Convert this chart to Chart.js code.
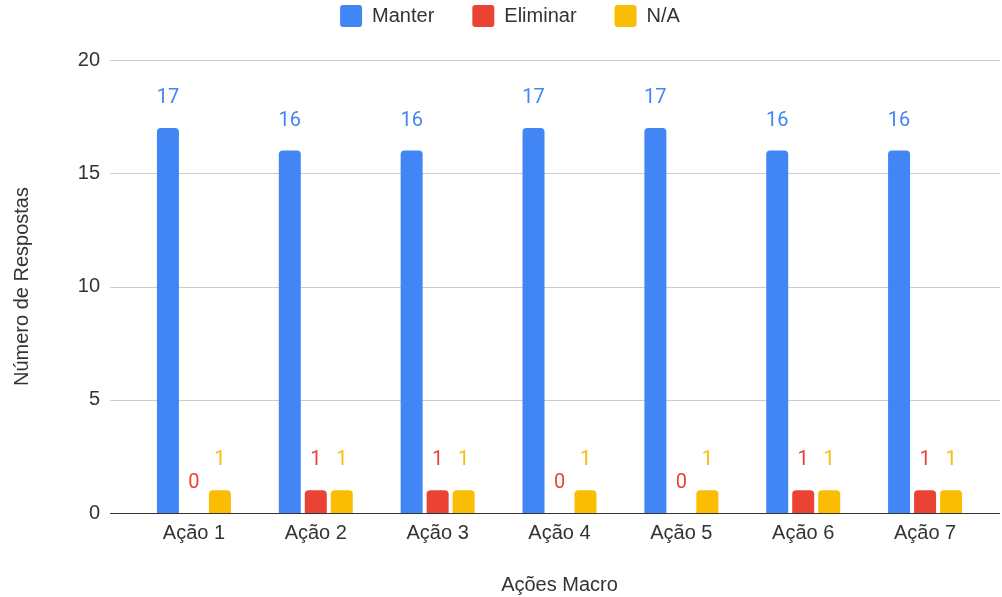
<!DOCTYPE html>
<html>
<head>
<meta charset="utf-8">
<script src="https://cdn.jsdelivr.net/npm/chart.js@4.4.0/dist/chart.umd.min.js"></script>
<style>
  html, body { margin: 0; padding: 0; background: #fff; }
  #wrap { width: 1002px; height: 597px; position: relative; }
</style>
</head>
<body>
<div id="wrap"><canvas id="c"></canvas></div>
<script>
const categories = ['Ação 1', 'Ação 2', 'Ação 3', 'Ação 4', 'Ação 5', 'Ação 6', 'Ação 7'];
const manter = [17, 16, 16, 17, 17, 16, 16];
const eliminar = [0, 1, 1, 0, 0, 1, 1];
const na = [1, 1, 1, 1, 1, 1, 1];
const yTicks = [0, 5, 10, 15, 20];

const FONT = '"Liberation Sans", Arial, sans-serif';
const LABEL_FONT = 'Roboto, "Liberation Sans", Arial, sans-serif';
const COLORS = { manter: '#4285F4', eliminar: '#EA4335', na: '#FBBC04' };

const legendHeight = {
  id: 'legendHeight',
  beforeInit(chart) {
    const fit = chart.legend.fit;
    chart.legend.fit = function () {
      fit.bind(chart.legend)();
      this.height = 93;
    };
  },
  afterLayout(chart) {
    chart.legend.left = 18;
    chart.legend.right = 1002;
  }
};

const gridPlugin = {
  id: 'gridPlugin',
  beforeDatasetsDraw(chart) {
    const ctx = chart.ctx;
    const y = chart.scales.y;
    ctx.save();
    yTicks.forEach(v => {
      const py = Math.round(y.getPixelForValue(v)) + 0.5;
      ctx.beginPath();
      ctx.strokeStyle = v === 0 ? '#333333' : '#cccccc';
      ctx.lineWidth = 1;
      ctx.moveTo(110, py);
      ctx.lineTo(1000, py);
      ctx.stroke();
    });
    ctx.restore();
  }
};

const labelPlugin = {
  id: 'labelPlugin',
  afterDatasetsDraw(chart) {
    const ctx = chart.ctx;
    ctx.save();
    ctx.font = '20px ' + LABEL_FONT;
    ctx.textAlign = 'center';
    ctx.textBaseline = 'middle';
    chart.data.datasets.forEach((ds, i) => {
      const meta = chart.getDatasetMeta(i);
      meta.data.forEach((el, j) => {
        ctx.fillStyle = ds.backgroundColor;
        ctx.fillText(String(ds.data[j]), el.x, el.y - 30);
      });
    });
    ctx.restore();
  }
};

const barCommon = {
  categoryPercentage: 0.64,
  barPercentage: 0.846,
  borderRadius: 4,
  borderSkipped: 'start',
  borderWidth: 0
};

new Chart(document.getElementById('c'), {
  type: 'bar',
  data: {
    labels: categories,
    datasets: [
      Object.assign({ label: 'Manter', data: manter, backgroundColor: COLORS.manter }, barCommon),
      Object.assign({ label: 'Eliminar', data: eliminar, backgroundColor: COLORS.eliminar }, barCommon),
      Object.assign({ label: 'N/A', data: na, backgroundColor: COLORS.na }, barCommon)
    ]
  },
  options: {
    responsive: true,
    maintainAspectRatio: false,
    animation: false,
    layout: { padding: { left: 0, right: 16, top: -33, bottom: 0 } },
    plugins: {
      tooltip: { enabled: false },
      legend: {
        position: 'top',
        labels: {
          boxWidth: 22,
          boxHeight: 22,
          useBorderRadius: true,
          borderRadius: 3,
          padding: 38,
          color: '#333333',
          font: { family: FONT, size: 20 }
        }
      }
    },
    scales: {
      x: {
        grid: { display: false, drawTicks: false },
        border: { display: false },
        ticks: { color: '#333333', padding: 8, font: { family: FONT, size: 20 }, maxRotation: 0 },
        title: { display: true, text: 'Ações Macro', color: '#333333', font: { family: FONT, size: 20 }, padding: { top: 0, bottom: 0 } },
        afterFit(scale) { scale.height = 84; }
      },
      y: {
        min: 0,
        max: 20,
        grid: { display: false, drawTicks: false },
        border: { display: false },
        ticks: { stepSize: 5, color: '#333333', padding: 33, font: { family: FONT, size: 20 } },
        title: { display: true, text: 'Número de Respostas', color: '#333333', font: { family: FONT, size: 20 }, padding: { top: 10, bottom: 0 } },
        afterFit(scale) { scale.width = 133; }
      }
    }
  },
  plugins: [legendHeight, gridPlugin, labelPlugin]
});
</script>
</body>
</html>
